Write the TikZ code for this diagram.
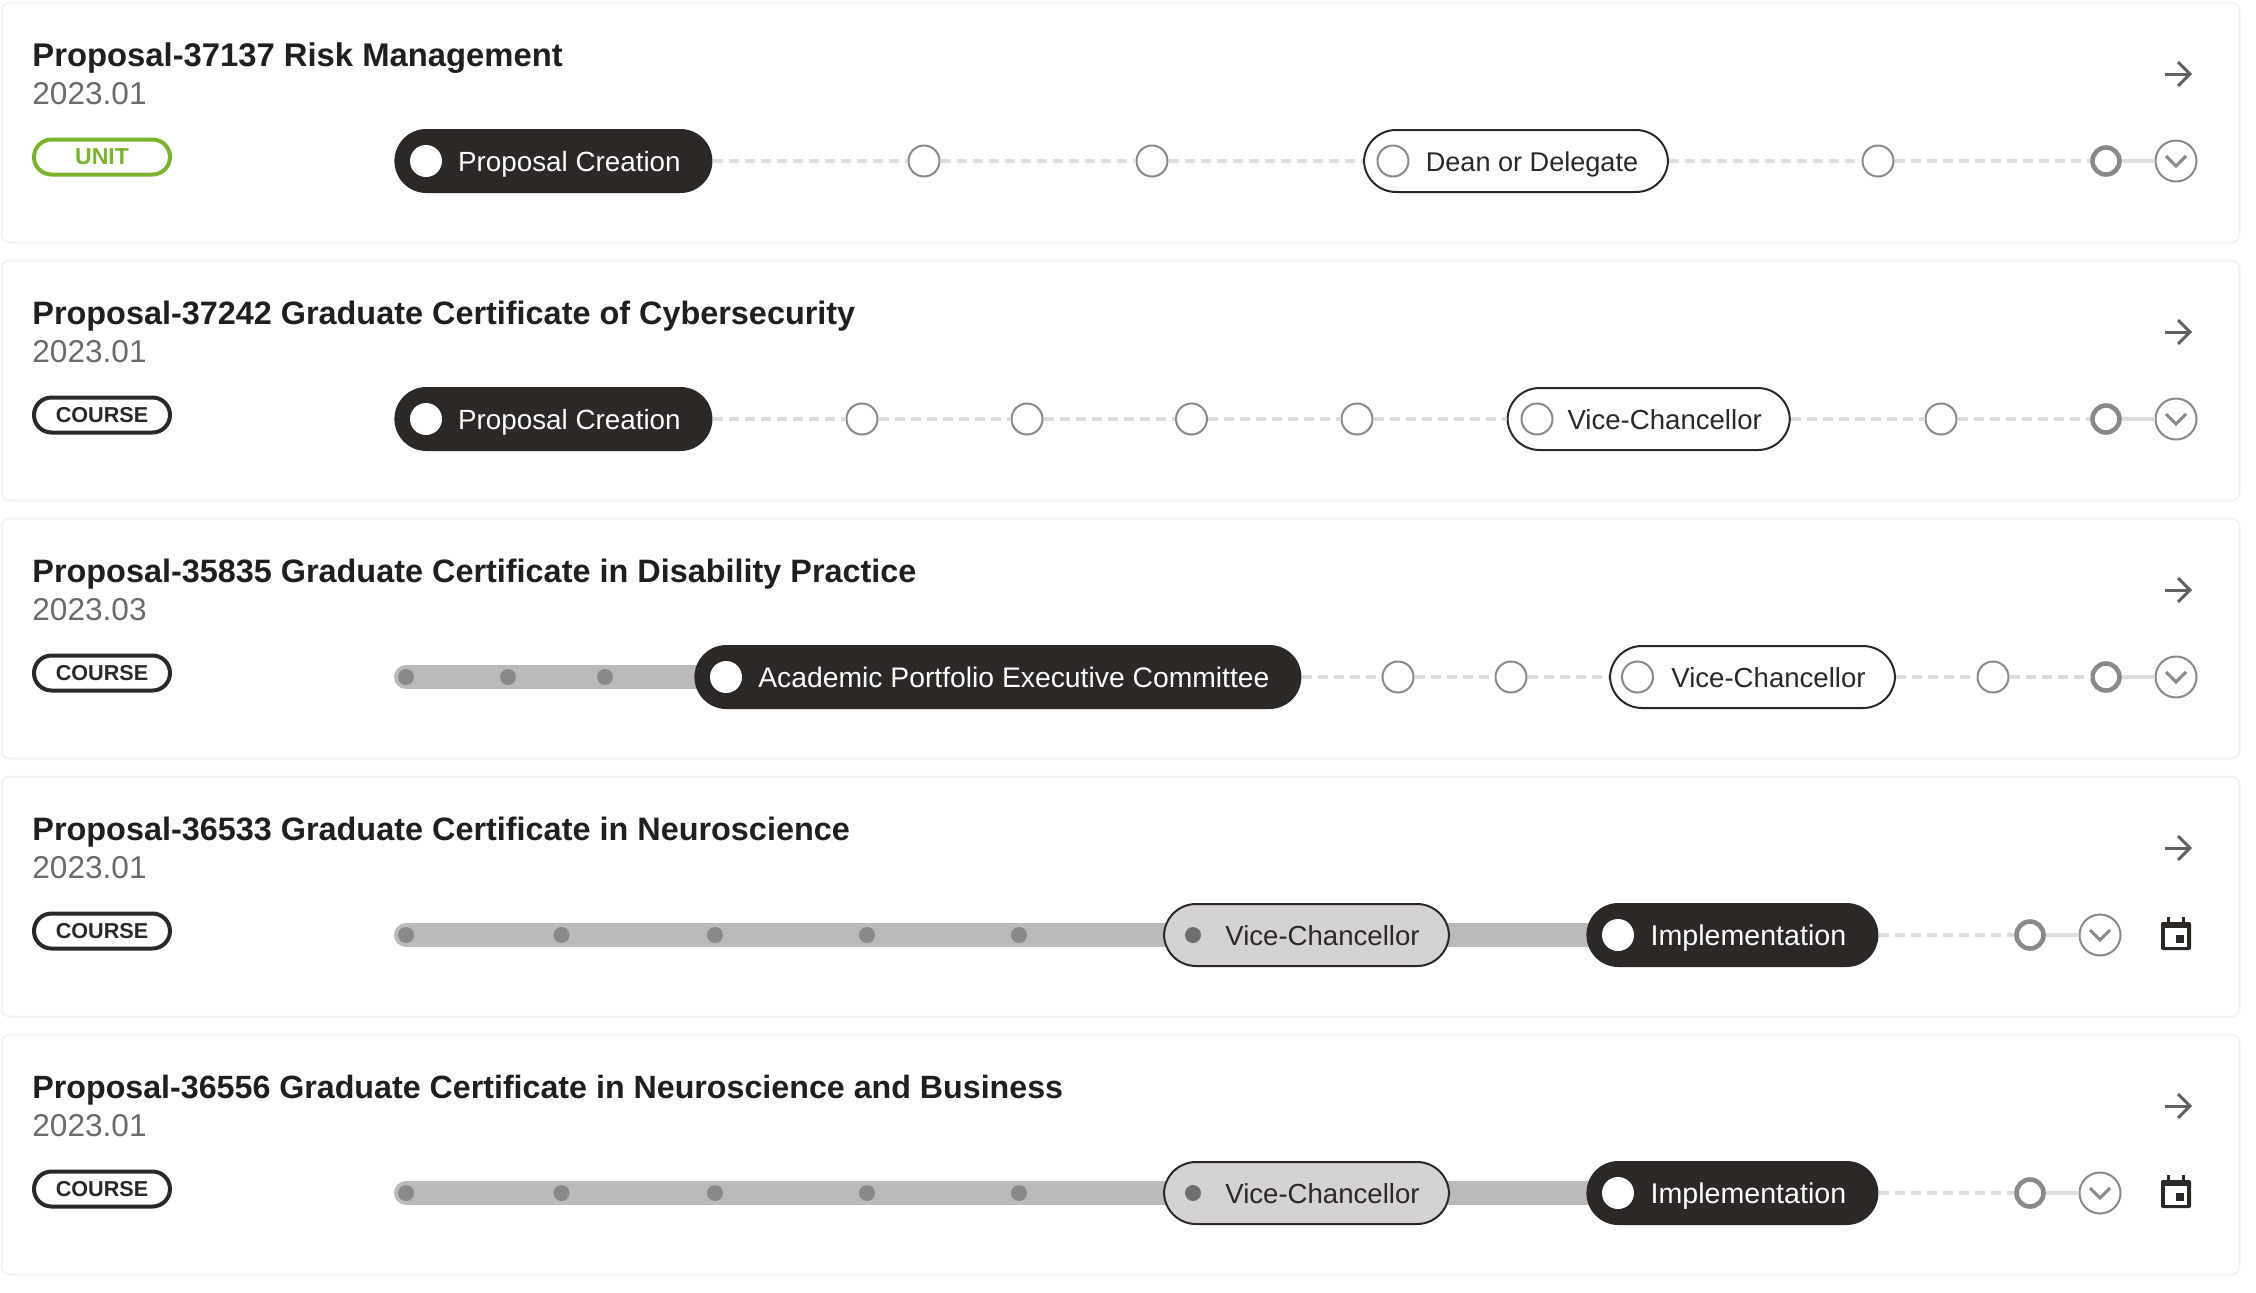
\documentclass[tikz,border=0pt]{standalone}
\usepackage{fontspec}
\setmainfont{Liberation Sans}
\usepackage{xcolor}
\usetikzlibrary{arrows.meta,positioning,calc,backgrounds}
\definecolor{inkdark}{HTML}{2B2825}
\definecolor{barfill}{HTML}{BBBAB8}
\definecolor{barpoint}{HTML}{8A8987}
\definecolor{donepoint}{HTML}{706E6C}
\definecolor{donefill}{HTML}{D4D2D3}
\definecolor{cardedge}{HTML}{F2F2F2}
\definecolor{linklight}{HTML}{DCDCDC}
\definecolor{unitgreen}{HTML}{7AB32E}

\begin{document}
\begin{tikzpicture}[
  x=0.5pt,y=-0.5pt,
  card/.style={rectangle,rounded corners=4pt,draw=cardedge,line width=1pt,anchor=north west,minimum width=1119pt,minimum height=120pt},
  title/.style={anchor=base west,inner sep=0pt,font=\fontsize{#1}{18pt}\bfseries,text=black!88},
  when/.style={anchor=base west,inner sep=0pt,font=\fontsize{15.8pt}{18pt}\selectfont,text=black!58},
  badge/.style={rectangle,rounded corners=8.75pt,draw,line width=2pt,minimum width=68pt,minimum height=17.5pt,inner sep=0pt},
  unitbadge/.style={badge,draw=unitgreen,text=unitgreen,font=\fontsize{11.5pt}{14pt}\bfseries},
  coursebadge/.style={badge,draw=inkdark,text=inkdark,font=\fontsize{10.8pt}{14pt}\bfseries},
  pill/.style={rectangle,rounded corners=16pt,anchor=west,inner ysep=0pt,text height=13.5pt,text depth=3pt},
  textsize/.style={font=\fontsize{#1}{17pt}\selectfont},
  nowpill/.style={pill,fill=inkdark,text=white,minimum height=32pt,inner xsep=15.5pt,execute at begin node={\hspace*{16pt}}},
  nextpill/.style={pill,fill=white,draw=inkdark,line width=1pt,text=inkdark,minimum height=31pt,inner xsep=14pt,execute at begin node={\hspace*{16pt}}},
  pastpill/.style={nextpill,fill=donefill},
  opendot/.style={circle,draw=barpoint,fill=white,line width=1pt,minimum size=15.5pt,inner sep=0pt},
  enddot/.style={circle,draw=barpoint,fill=white,line width=2.3pt,minimum size=13.5pt,inner sep=0pt},
  whitedot/.style={circle,fill=white,minimum size=16pt,inner sep=0pt},
  pastdot/.style={circle,fill=barpoint,minimum size=8pt,inner sep=0pt},
  pend/.style={draw=linklight,line width=2pt,dash pattern=on 5pt off 3pt},
  solid link/.style={draw=linklight,line width=2pt},
  bar/.style={draw=barfill,line width=12pt,line cap=round},
  chevbtn/.style={circle,draw=barpoint,fill=white,line width=1pt,minimum size=20.5pt,inner sep=0pt,path picture={
    \draw[barpoint,line width=1.5pt] ($(path picture bounding box.center)+(-10,-5)$) -- ($(path picture bounding box.center)+(0,5)$) -- ($(path picture bounding box.center)+(10,-5)$);}},
  goicon/.style={minimum size=16pt,inner sep=0pt,path picture={
    \draw[black!62,line width=1.5pt] ($(path picture bounding box.center)+(-13,0)$) -- ($(path picture bounding box.center)+(12,0)$);
    \draw[black!62,line width=1.5pt] ($(path picture bounding box.center)+(0,-12)$) -- ($(path picture bounding box.center)+(12,0)$) -- ($(path picture bounding box.center)+(0,12)$);}},
  calicon/.style={minimum size=18pt,inner sep=0pt,path picture={
    \coordinate (cc) at (path picture bounding box.center);
    \fill[inkdark,rounded corners=1pt] ($(cc)+(-15,-13)$) rectangle ($(cc)+(15,15)$);
    \fill[inkdark] ($(cc)+(-9,-18)$) rectangle ($(cc)+(-6,-13)$);
    \fill[inkdark] ($(cc)+(6,-18)$) rectangle ($(cc)+(9,-13)$);
    \fill[white] ($(cc)+(-11,-7)$) rectangle ($(cc)+(11,12)$);
    \fill[inkdark] ($(cc)+(0,0)$) rectangle ($(cc)+(8,8)$);}}
]
\useasboundingbox (0,0) rectangle (2256,1292);
\begin{scope}[on background layer]
\fill[white] (0,0) rectangle (2256,1292);
\end{scope}

% first card
\node[card] (cardA) at (0.5,1.5) {};
\node[title=16.4pt] (titleA) at (32,66) {Proposal-37137 Risk Management};
\node[when] (whenA) at (32,104.5) {2023.01};
\node[unitbadge] (badgeA) at (102,157) {UNIT};
\node[goicon] (goA) at (2178,74) {};
\node[nowpill,textsize=13.9pt,minimum width=159pt] (pillA) at (394,161) {Proposal Creation};
\node[whitedot] at (426,161) (spotA) {};
\node[opendot] (aa) at (924,161) {};
\node[opendot] (ab) at (1152,161) {};
\node[nextpill,textsize=13.55pt,minimum width=152pt] (nextA) at (1363,161) {Dean or Delegate};
\node[opendot] at (1393,161) (ringA) {};
\node[opendot] (ac) at (1878,161) {};
\node[enddot] (endA) at (2106,161) {};
\node[chevbtn] (moreA) at (2176,161) {};
\draw[pend] (pillA) -- (aa);
\draw[pend] (aa) -- (ab);
\draw[pend] (ab) -- (nextA);
\draw[pend] (nextA) -- (ac);
\draw[pend] (ac) -- (endA);
\draw[solid link] (endA) -- (moreA);

% second card
\node[card] (cardB) at (0.5,259.5) {};
\node[title=16.2pt] (titleB) at (32,324) {Proposal-37242 Graduate Certificate of Cybersecurity};
\node[when] (whenB) at (32,362.5) {2023.01};
\node[coursebadge] (badgeB) at (102,415) {COURSE};
\node[goicon] (goB) at (2178,332) {};
\node[nowpill,textsize=13.9pt,minimum width=159pt] (pillB) at (394,419) {Proposal Creation};
\node[whitedot] at (426,419) (spotB) {};
\node[opendot] (ba) at (862,419) {};
\node[opendot] (bb) at (1027,419) {};
\node[opendot] (bc) at (1191.5,419) {};
\node[opendot] (bd) at (1357,419) {};
\node[nextpill,textsize=13.8pt,minimum width=141pt] (nextB) at (1506.5,419) {Vice-Chancellor};
\node[opendot] at (1537,419) (ringB) {};
\node[opendot] (be) at (1941,419) {};
\node[enddot] (endB) at (2106,419) {};
\node[chevbtn] (moreB) at (2176,419) {};
\draw[pend] (pillB) -- (ba);
\draw[pend] (ba) -- (bb);
\draw[pend] (bb) -- (bc);
\draw[pend] (bc) -- (bd);
\draw[pend] (bd) -- (nextB);
\draw[pend] (nextB) -- (be);
\draw[pend] (be) -- (endB);
\draw[solid link] (endB) -- (moreB);

% third card
\node[card] (cardC) at (0.5,517.5) {};
\node[title=16.2pt] (titleC) at (32,582) {Proposal-35835 Graduate Certificate in Disability Practice};
\node[when] (whenC) at (32,620.5) {2023.03};
\node[coursebadge] (badgeC) at (102,673) {COURSE};
\node[goicon] (goC) at (2178,590) {};
\node[pastdot] (ca) at (406,677) {};
\node[pastdot] (cb) at (508,677) {};
\node[pastdot] (cc) at (605,677) {};
\node[nowpill,textsize=14.15pt,minimum width=303.5pt] (pillC) at (694,677) {Academic Portfolio Executive Committee};
\node[whitedot] at (726,677) (spotC) {};
\node[opendot] (cd) at (1398,677) {};
\node[opendot] (ce) at (1511,677) {};
\node[nextpill,textsize=13.8pt,minimum width=142.5pt] (nextC) at (1609,677) {Vice-Chancellor};
\node[opendot] at (1637.5,677) (ringC) {};
\node[opendot] (cf) at (1993,677) {};
\node[enddot] (endC) at (2106,677) {};
\node[chevbtn] (moreC) at (2176,677) {};
\begin{scope}[on background layer]
\draw[bar] (ca.center) -- (pillC.center);
\end{scope}
\draw[pend] (pillC) -- (cd);
\draw[pend] (cd) -- (ce);
\draw[pend] (ce) -- (nextC);
\draw[pend] (nextC) -- (cf);
\draw[pend] (cf) -- (endC);
\draw[solid link] (endC) -- (moreC);

% fourth card
\node[card] (cardD) at (0.5,775.5) {};
\node[title=16.2pt] (titleD) at (32,840) {Proposal-36533 Graduate Certificate in Neuroscience};
\node[when] (whenD) at (32,878.5) {2023.01};
\node[coursebadge] (badgeD) at (102,931) {COURSE};
\node[goicon] (goD) at (2178,848) {};
\node[pastdot] (da) at (406,935) {};
\node[pastdot] (db) at (561.5,935) {};
\node[pastdot] (dc) at (715,935) {};
\node[pastdot] (dd) at (867,935) {};
\node[pastdot] (de) at (1019,935) {};
\node[pastpill,textsize=13.8pt,minimum width=142.5pt] (doneD) at (1163,935) {Vice-Chancellor};
\node[pastdot,fill=donepoint] at (1193,935) (spotDa) {};
\node[nowpill,textsize=14.3pt,minimum width=146pt] (pillD) at (1586,935) {Implementation};
\node[whitedot] at (1618,935) (spotDb) {};
\node[enddot] (endD) at (2030,935) {};
\node[chevbtn] (moreD) at (2100,935) {};
\node[calicon] (calD) at (2176,935) {};
\begin{scope}[on background layer]
\draw[bar] (da.center) -- (pillD.center);
\end{scope}
\draw[pend] (pillD) -- (endD);
\draw[solid link] (endD) -- (moreD);

% fifth card
\node[card] (cardE) at (0.5,1033.5) {};
\node[title=16.1pt] (titleE) at (32,1098) {Proposal-36556 Graduate Certificate in Neuroscience and Business};
\node[when] (whenE) at (32,1136.5) {2023.01};
\node[coursebadge] (badgeE) at (102,1189) {COURSE};
\node[goicon] (goE) at (2178,1106) {};
\node[pastdot] (ea) at (406,1193) {};
\node[pastdot] (eb) at (561.5,1193) {};
\node[pastdot] (ec) at (715,1193) {};
\node[pastdot] (ed) at (867,1193) {};
\node[pastdot] (ee) at (1019,1193) {};
\node[pastpill,textsize=13.8pt,minimum width=142.5pt] (doneE) at (1163,1193) {Vice-Chancellor};
\node[pastdot,fill=donepoint] at (1193,1193) (spotEa) {};
\node[nowpill,textsize=14.3pt,minimum width=146pt] (pillE) at (1586,1193) {Implementation};
\node[whitedot] at (1618,1193) (spotEb) {};
\node[enddot] (endE) at (2030,1193) {};
\node[chevbtn] (moreE) at (2100,1193) {};
\node[calicon] (calE) at (2176,1193) {};
\begin{scope}[on background layer]
\draw[bar] (ea.center) -- (pillE.center);
\end{scope}
\draw[pend] (pillE) -- (endE);
\draw[solid link] (endE) -- (moreE);
\end{tikzpicture}
\end{document}
